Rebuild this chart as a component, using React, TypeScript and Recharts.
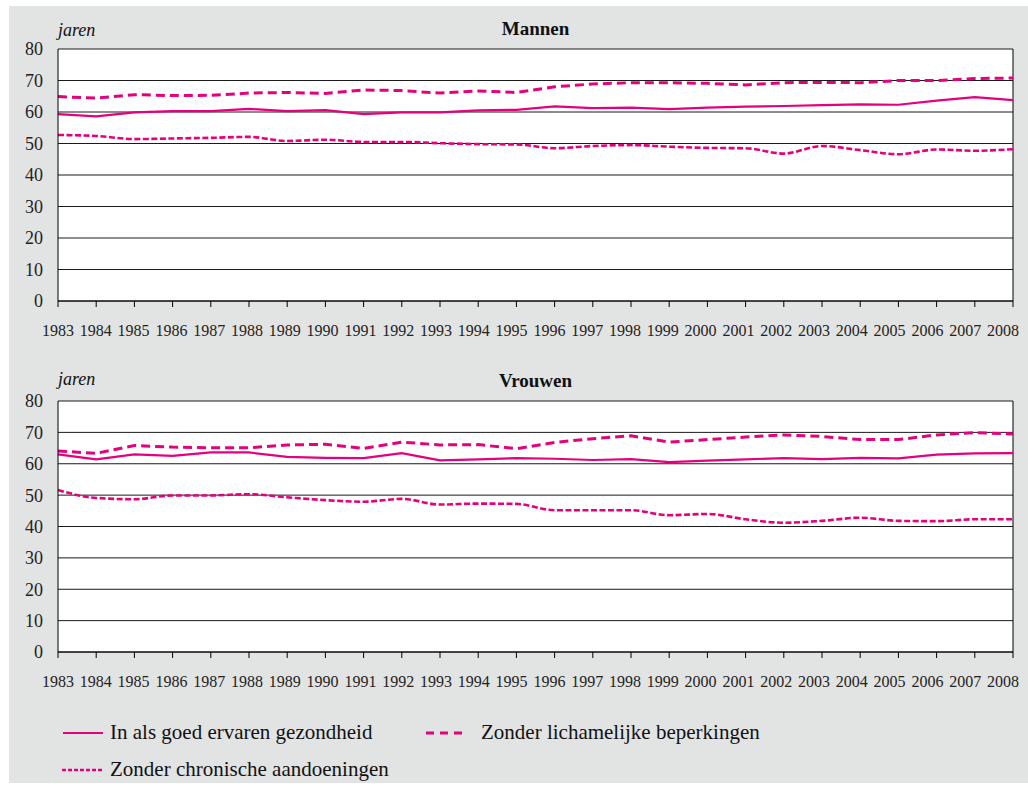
import { LineChart, Line, XAxis, YAxis, CartesianGrid, ReferenceLine } from 'recharts';

const years = [
  '1983', '1984', '1985', '1986', '1987', '1988', '1989', '1990', '1991', '1992', '1993', '1994', '1995',
  '1996', '1997', '1998', '1999', '2000', '2001', '2002', '2003', '2004', '2005', '2006', '2007', '2008'
];
const yTicks = [0, 10, 20, 30, 40, 50, 60, 70, 80];

// Mannen
const mGoed = [59.3, 58.6, 59.9, 60.3, 60.3, 61.0, 60.3, 60.6, 59.3, 59.9, 59.9, 60.5, 60.7, 61.8, 61.2, 61.4, 60.9, 61.4, 61.7, 61.9, 62.2, 62.4, 62.3, 63.6, 64.7, 63.8];
const mLich = [64.9, 64.4, 65.5, 65.2, 65.3, 66.0, 66.2, 65.9, 67.0, 66.8, 66.0, 66.7, 66.2, 68.0, 68.9, 69.3, 69.3, 69.1, 68.6, 69.3, 69.4, 69.3, 70.0, 70.0, 70.6, 70.8];
const mChron = [52.7, 52.4, 51.4, 51.6, 51.8, 52.1, 50.8, 51.2, 50.5, 50.5, 50.1, 49.8, 49.7, 48.5, 49.2, 49.5, 49.0, 48.6, 48.5, 46.8, 49.2, 47.9, 46.6, 48.1, 47.7, 48.2];

// Vrouwen
const vGoed = [63.0, 61.4, 63.0, 62.5, 63.6, 63.6, 62.2, 61.9, 61.8, 63.4, 61.1, 61.4, 61.8, 61.6, 61.2, 61.5, 60.5, 61.0, 61.4, 61.8, 61.5, 61.9, 61.7, 62.9, 63.3, 63.4];
const vLich = [64.1, 63.3, 65.8, 65.3, 65.1, 65.1, 66.0, 66.2, 64.9, 66.9, 66.0, 66.1, 64.8, 66.8, 68.0, 68.9, 66.9, 67.7, 68.5, 69.2, 68.7, 67.7, 67.7, 69.2, 69.9, 69.5];
const vChron = [51.6, 49.1, 48.7, 49.9, 49.9, 50.3, 49.3, 48.4, 47.9, 48.8, 47.0, 47.3, 47.2, 45.2, 45.2, 45.2, 43.6, 44.0, 42.3, 41.2, 41.8, 42.8, 41.8, 41.7, 42.3, 42.3];

const PINK = '#e5007d';
const GREY = '#e2e3e3';
const FONT = '"Liberation Serif", "Times New Roman", serif';

const build = (goed: number[], lich: number[], chron: number[]) =>
  years.map((year, i) => ({ year, goed: goed[i], lich: lich[i], chron: chron[i] }));

const XTick = (props: any) => {
  const { x, y, payload, index } = props;
  let shift = -index * 0.4;
  return (
    <text x={x + shift} y={y + 27} textAnchor="middle" style={{ fontFamily: FONT }} fontSize={16} fill="#222">
      {payload.value}
    </text>
  );
};

function Panel({ data, top, xHeight }: { data: any[]; top: number; xHeight: number }) {
  return (
    <div style={{ position: 'absolute', left: 0, top }}>
      <LineChart width={1028} height={345} data={data} margin={{ top: 49, right: 15, left: 0, bottom: 0 }}>
        <CartesianGrid vertical={false} fill="#fff" stroke="#1a1a1a" strokeOpacity={1} />
        <XAxis
          dataKey="year"
          interval={0}
          height={xHeight}
          tickSize={6}
          axisLine={{ stroke: '#000' }}
          tickLine={{ stroke: '#000' }}
          tick={<XTick />}
        />
        <YAxis
          domain={[0, 80]}
          ticks={yTicks}
          width={58}
          tickSize={0}
          tickMargin={15}
          axisLine={{ stroke: '#000' }}
          tick={{ fontFamily: FONT, fontSize: 18, fill: '#222' }}
        />
        <ReferenceLine x="2008" stroke="#000" />
        <Line dataKey="chron" type="monotone" stroke={PINK} strokeWidth={2.6} strokeDasharray="6 2.5" dot={false} isAnimationActive={false} />
        <Line dataKey="lich" type="linear" stroke={PINK} strokeWidth={3} strokeDasharray="9 5" dot={false} isAnimationActive={false} />
        <Line dataKey="goed" type="linear" stroke={PINK} strokeWidth={2.2} dot={false} isAnimationActive={false} />
      </LineChart>
    </div>
  );
}

export default function App() {
  const mannen = build(mGoed, mLich, mChron);
  const vrouwen = build(vGoed, vLich, vChron);
  return (
    <div style={{ position: 'absolute', left: 0, top: 0, width: 1028, height: 787, background: '#fff', overflow: 'hidden' }}>
      <div style={{ position: 'absolute', left: 9, top: 6, width: 1019, height: 777, background: GREY }} />
      <Panel data={mannen} top={0} xHeight={44} />
      <Panel data={vrouwen} top={352} xHeight={45} />
      <svg width={1028} height={787} style={{ position: 'absolute', left: 0, top: 0, pointerEvents: 'none', fontFamily: FONT }}>
        <g fill="#111">
          <text x={58} y={36} fontSize={18} fontStyle="italic">jaren</text>
          <text x={535.5} y={35} fontSize={19} fontWeight="bold" textAnchor="middle">Mannen</text>
          <text x={58} y={385} fontSize={18} fontStyle="italic">jaren</text>
          <text x={535.5} y={387} fontSize={19} fontWeight="bold" textAnchor="middle">Vrouwen</text>

          <line x1={63} x2={103} y1={733} y2={733} stroke={PINK} strokeWidth={2.2} />
          <text x={110} y={739} fontSize={21}>In als goed ervaren gezondheid</text>

          <line x1={426} x2={466} y1={733} y2={733} stroke={PINK} strokeWidth={3} strokeDasharray="8 6" />
          <text x={481} y={739} fontSize={21}>Zonder lichamelijke beperkingen</text>

          <line x1={62} x2={103} y1={770} y2={770} stroke={PINK} strokeWidth={2.4} strokeDasharray="4 2" />
          <text x={110} y={776} fontSize={21}>Zonder chronische aandoeningen</text>
        </g>
      </svg>
    </div>
  );
}
